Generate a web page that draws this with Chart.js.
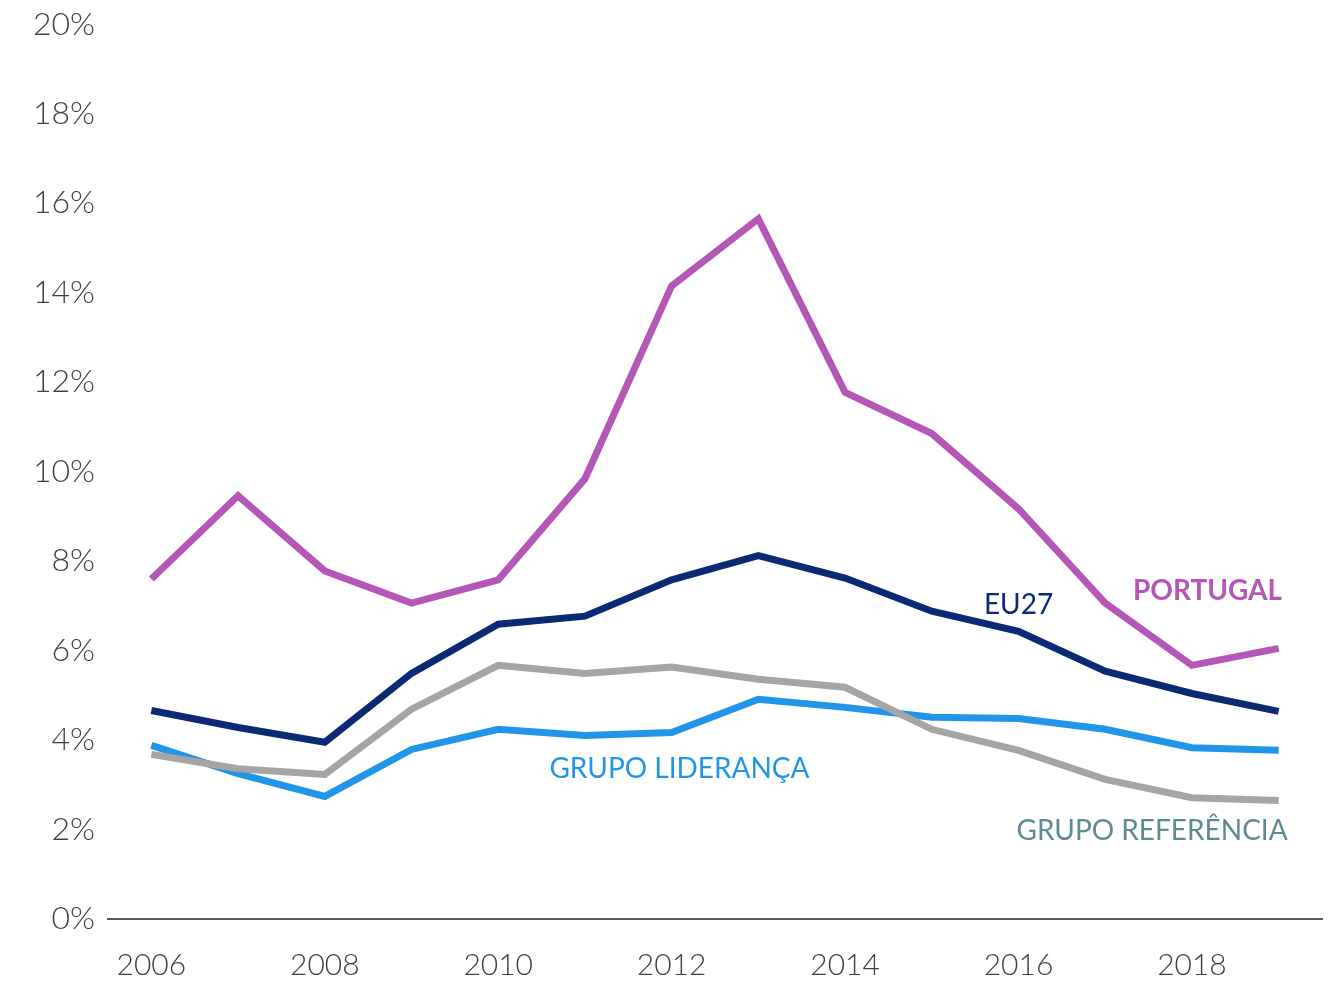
<!DOCTYPE html>
<html>
<head>
<meta charset="utf-8">
<script src="https://cdn.jsdelivr.net/npm/chart.js@4.4.0/dist/chart.umd.min.js"></script>
<style>
  body { margin: 0; background: #fff; }
  #wrap { width: 1338px; height: 981px; position: relative; }
</style>
</head>
<body>
<div id="wrap"><canvas id="chart"></canvas></div>
<script>
const years = ["2006", "2007", "2008", "2009", "2010", "2011", "2012", "2013", "2014", "2015", "2016", "2017", "2018", "2019"];
const portugal = [7.6, 9.46, 7.78, 7.06, 7.58, 9.84, 14.15, 15.65, 11.77, 10.85, 9.17, 7.06, 5.67, 6.05];
const eu27 = [4.66, 4.28, 3.95, 5.49, 6.59, 6.77, 7.58, 8.12, 7.62, 6.88, 6.43, 5.54, 5.04, 4.64];
const grupoReferencia = [3.68, 3.36, 3.23, 4.69, 5.67, 5.49, 5.63, 5.36, 5.18, 4.24, 3.77, 3.12, 2.71, 2.65];
const grupoLideranca = [3.88, 3.25, 2.74, 3.79, 4.24, 4.10, 4.17, 4.91, 4.73, 4.51, 4.48, 4.24, 3.83, 3.77];

const FONT = "Lato, 'Source Sans Pro', 'Open Sans', sans-serif";

// series name labels placed on the chart (x = category index, y = value)
const seriesLabels = [
  { text: "PORTUGAL", x: 12.18, y: 7.33, color: "#B557B6", bold: true },
  { text: "EU27", x: 10.0, y: 7.02, color: "#0B2A73", bold: false },
  { text: "GRUPO LIDERANÇA", x: 6.09, y: 3.36, color: "#2196E8", bold: false },
  { text: "GRUPO REFERÊNCIA", x: 11.54, y: 1.97, color: "#5F8A93", bold: false }
];

const labelPlugin = {
  id: "seriesLabels",
  afterDatasetsDraw(chart) {
    const ctx = chart.ctx;
    const xs = chart.scales.x, ys = chart.scales.y;
    ctx.save();
    ctx.textAlign = "center";
    ctx.textBaseline = "middle";
    seriesLabels.forEach(l => {
      const i = Math.floor(l.x), f = l.x - i;
      const px = xs.getPixelForValue(i) + f * (xs.getPixelForValue(i + 1) - xs.getPixelForValue(i));
      ctx.font = (l.bold ? "bold " : "") + "28px " + FONT;
      ctx.fillStyle = l.color;
      ctx.fillText(l.text, px, ys.getPixelForValue(l.y));
    });
    ctx.restore();
  }
};

function line(data, color) {
  return {
    data: data,
    borderColor: color,
    borderWidth: 7,
    pointRadius: 0,
    fill: false,
    tension: 0,
    borderCapStyle: "butt",
    borderJoinStyle: "miter"
  };
}

new Chart(document.getElementById("chart"), {
  type: "line",
  data: {
    labels: years,
    datasets: [
      line(portugal, "#B557B6"),
      line(eu27, "#0B2A73"),
      line(grupoReferencia, "#A5A5A5"),
      line(grupoLideranca, "#2196E8")
    ]
  },
  options: {
    responsive: true,
    maintainAspectRatio: false,
    animation: false,
    layout: { padding: { top: 9, right: 16, bottom: 0, left: 10 } },
    plugins: { legend: { display: false }, tooltip: { enabled: false } },
    scales: {
      x: {
        offset: true,
        grid: { display: false },
        border: { display: true, color: "#595959", width: 2 },
        afterFit: function (scale) { scale.height = 62; },
        ticks: {
          autoSkip: false,
          maxRotation: 0,
          padding: 23,
          color: "#404040",
          font: { family: FONT, size: 30, weight: 300, lineHeight: 1 },
          callback: function (v, i) { return i % 2 === 0 ? years[i] : ""; }
        }
      },
      y: {
        min: 0,
        max: 20,
        grid: { display: false },
        border: { display: false },
        afterFit: function (scale) { scale.width = 98; },
        ticks: {
          stepSize: 2,
          padding: 5,
          color: "#404040",
          font: { family: FONT, size: 32, weight: 300 },
          callback: v => v + "%"
        }
      }
    }
  },
  plugins: [labelPlugin]
});
</script>
</body>
</html>
